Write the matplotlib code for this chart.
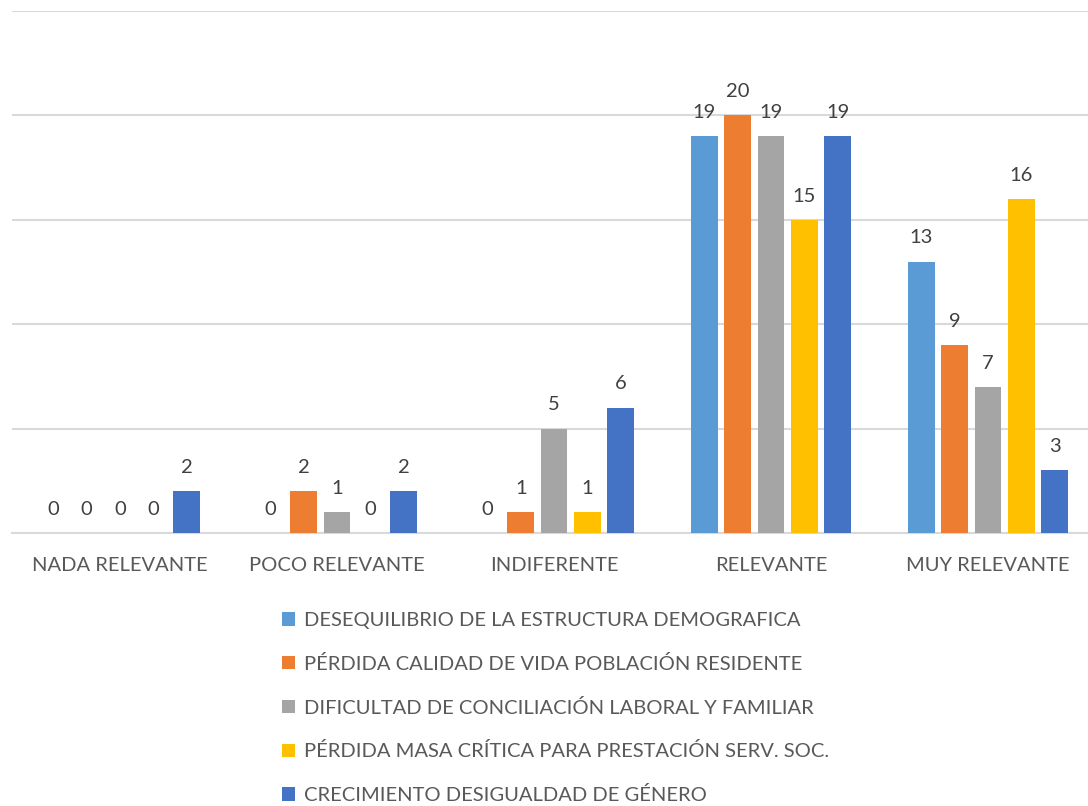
"""grouped bar chart of relevance ratings"""

import numpy as np
import matplotlib.pyplot as plt

plt.rcParams['font.family'] = ['Lato', 'DejaVu Sans']

categories = ['NADA RELEVANTE', 'POCO RELEVANTE', 'INDIFERENTE',
              'RELEVANTE', 'MUY RELEVANTE']
series_names = [
    'DESEQUILIBRIO DE LA ESTRUCTURA DEMOGRAFICA',
    'PÉRDIDA CALIDAD DE VIDA POBLACIÓN RESIDENTE',
    'DIFICULTAD DE CONCILIACIÓN LABORAL Y FAMILIAR',
    'PÉRDIDA MASA CRÍTICA PARA PRESTACIÓN SERV. SOC.',
    'CRECIMIENTO DESIGUALDAD DE GÉNERO',
]
desequilibrio = [0, 0, 0, 19, 13]
calidad_vida = [0, 2, 1, 20, 9]
conciliacion = [0, 1, 5, 19, 7]
masa_critica = [0, 0, 1, 15, 16]
desigualdad = [2, 2, 6, 19, 3]

series_values = [desequilibrio, calidad_vida, conciliacion, masa_critica, desigualdad]
colors = ['#5B9BD5', '#ED7D31', '#A5A5A5', '#FFC000', '#4472C4']

fig = plt.figure(figsize=(10.88, 8.06), dpi=100)
# plot area runs a little past the right edge, as in the source image
ax = fig.add_axes([11.5 / 1088, 273 / 806, 1085 / 1088, 522 / 806])

x = np.arange(len(categories))
width = 0.124
step = 0.1535
for i, (name, vals, col) in enumerate(zip(series_names, series_values, colors)):
    offset = (i - 2) * step
    bars = ax.bar(x + offset, vals, width, color=col, label=name, zorder=3)
    for bar, v in zip(bars, vals):
        ax.annotate(str(v), (bar.get_x() + bar.get_width() / 2, v),
                    xytext=(0, 11), textcoords='offset points',
                    ha='center', va='bottom', fontsize=14.5, color='#404040')

ax.set_xlim(-0.5, 4.5)
ax.set_ylim(0, 25)
ax.set_yticks(np.arange(0, 26, 5))
ax.set_yticklabels([])
ax.tick_params(axis='y', length=0)
ax.grid(axis='y', color='#D9D9D9', linewidth=1.5, zorder=0)
ax.set_xticks(x)
ax.set_xticklabels(categories, fontsize=14.5, color='#595959')
ax.tick_params(axis='x', length=0, pad=17.5)
for side in ['top', 'right', 'left']:
    ax.spines[side].set_visible(False)
ax.spines['bottom'].set_color('#D9D9D9')
ax.spines['bottom'].set_linewidth(1.5)

fig.legend(loc='upper left', bbox_to_anchor=(282 / 1088, 0.2407), ncol=1,
           frameon=False, fontsize=14.5, labelcolor='#595959',
           borderpad=0, borderaxespad=0,
           handlelength=0.65, handleheight=0.65, handletextpad=0.45,
           labelspacing=1.28)

fig.savefig('out.png', dpi=100)
